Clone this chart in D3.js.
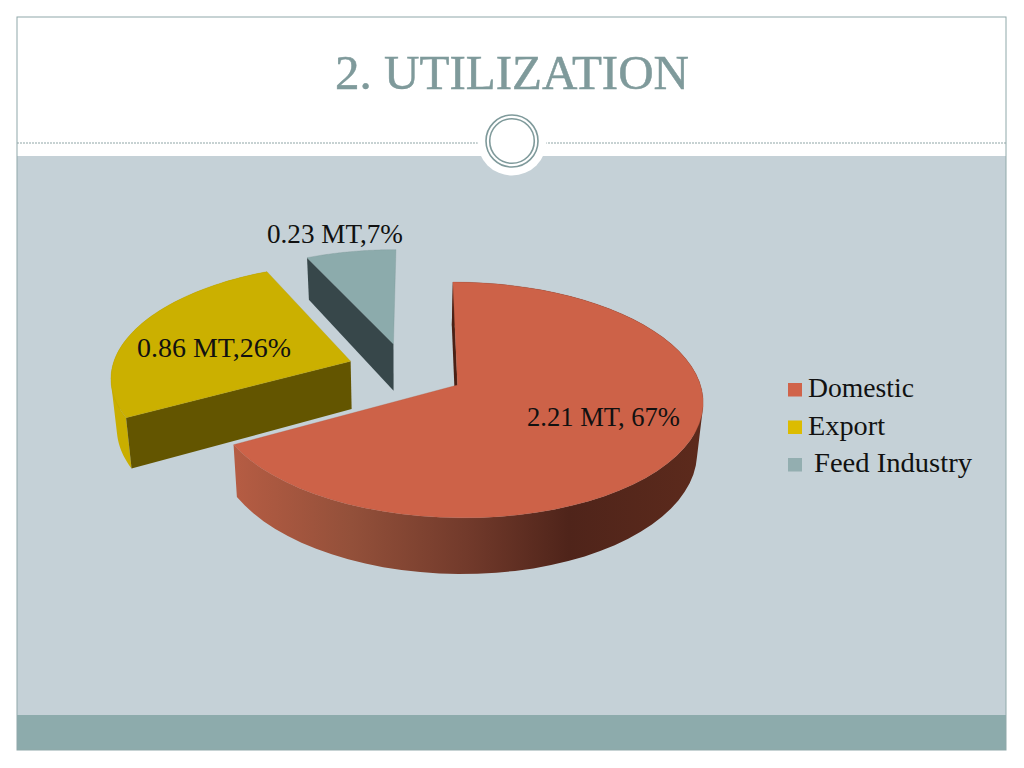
<!DOCTYPE html>
<html>
<head>
<meta charset="utf-8">
<title>2. UTILIZATION</title>
<script src="https://cdn.jsdelivr.net/npm/d3@7"></script>
<style>
  html, body { margin: 0; padding: 0; background: #fff; }
  svg { display: block; }
  text { font-family: "Liberation Serif", "DejaVu Serif", serif; }
</style>
</head>
<body>
<div id="chart"></div>
<script>
// chart data
const categories = ["Domestic", "Export", "Feed Industry"];
const valuesMT = [2.21, 0.86, 0.23];
const sliceLabels = ["2.21 MT, 67%", "0.86 MT,26%", "0.23 MT,7%"];
const titleText = "2. UTILIZATION";

// how far each slice is pulled out of the pie, in radius units (x, y on the pie's plane)
const explodeX = [0, -0.447, -0.268];
const explodeY = [0, -0.21, -0.37];

const topColors = ["#cd6248", "#cbb000", "#8cabac"];
const radialColors = ["#4a2015", "#635500", "#37474a"];

const width = 1024, height = 768;
const svg = d3.select("#chart").append("svg")
    .attr("width", width)
    .attr("height", height);

// slide background
svg.append("rect").attr("x", 17).attr("y", 156).attr("width", 989).attr("height", 559).attr("fill", "#c5d1d7");
svg.append("rect").attr("x", 17).attr("y", 715).attr("width", 989).attr("height", 35).attr("fill", "#8dabac");
svg.append("rect").attr("x", 17).attr("y", 17).attr("width", 989).attr("height", 733)
    .attr("fill", "none").attr("stroke", "#8fa8a9").attr("stroke-width", 1);

svg.append("line").attr("x1", 17).attr("x2", 1006).attr("y1", 143).attr("y2", 143)
    .attr("stroke", "#8fa5a6").attr("stroke-width", 1).attr("stroke-dasharray", "2 1");

// white bump and double ring on the divider
svg.append("circle").attr("cx", 512).attr("cy", 141).attr("r", 34.5).attr("fill", "#fff");
svg.append("circle").attr("cx", 512).attr("cy", 141).attr("r", 26).attr("fill", "none").attr("stroke", "#7f9a9b").attr("stroke-width", 1.6);
svg.append("circle").attr("cx", 512).attr("cy", 141).attr("r", 22.3).attr("fill", "none").attr("stroke", "#7f9a9b").attr("stroke-width", 1.6);

svg.append("text")
    .attr("x", 335).attr("y", 89)
    .attr("textLength", 354).attr("lengthAdjust", "spacingAndGlyphs")
    .attr("font-size", 48).attr("fill", "#7f9a9b")
    .attr("stroke", "#7f9a9b").attr("stroke-width", 0.5)
    .text(titleText);

// pie projection, a flat circle seen in perspective
const cx = 457.5, cy = 385;
const Rx = 243, Ry = 116, persp = 0.127, skew = 0.045;
const depth = 49;

function project(a, r, i) {
    const px = r * Math.sin(a) + explodeX[i];
    const py = -r * Math.cos(a) + explodeY[i];
    const s = 1 / (1 - persp * py);
    const yy = Ry * py * s;
    return { x: cx + Rx * px * s + yy * skew, y: cy + yy, s: s };
}
// same point on the bottom face
function down(p) {
    return { x: 400 + (p.x - 400) * 0.98, y: p.y + depth * p.s };
}

const line = d3.line().x(d => d.x).y(d => d.y);

const pie = d3.pie().sort(null).startAngle(0).endAngle(2 * Math.PI);
const slices = pie(valuesMT);

const defs = svg.append("defs");
const wallGrad = defs.append("linearGradient").attr("id", "wallDomestic")
    .attr("gradientUnits", "userSpaceOnUse")
    .attr("x1", 236).attr("x2", 698).attr("y1", 0).attr("y2", 0);
[[0, "#b55c43"], [0.25, "#93503a"], [0.5, "#723a2b"], [0.72, "#4f241a"], [1, "#5c2a1c"]].forEach(d => {
    wallGrad.append("stop").attr("offset", d[0]).attr("stop-color", d[1]);
});

const wallColors = ["url(#wallDomestic)", "#c9ae00", "#5d7273"];

// curved wall: one quad per rim step, all wound the same way so they fill as a union
function wallPath(rim) {
    return d3.pairs(rim).map(p => {
        let quad = [p[0], p[1], down(p[1]), down(p[0])];
        if (d3.polygonArea(quad.map(q => [q.x, q.y])) < 0) quad = quad.reverse();
        return line(quad) + "Z";
    }).join("");
}

// painter's order, back to front
const drawOrder = [2, 1, 0];
drawOrder.forEach(i => {
    const d = slices[i];
    const angles = d3.range(0, 61).map(k => d.startAngle + (d.endAngle - d.startAngle) * k / 60);
    const rim = angles.map(a => project(a, 1, i));
    const apex = project(0, 0, i);
    const g = svg.append("g").attr("class", "slice");

    // feed slice has its rim at the back, nothing to see
    if (i !== 2) {
        g.append("path")
            .attr("d", wallPath(rim))
            .attr("fill", wallColors[i]);
    }

    // straight wall along the slice's start edge
    const edge = project(d.startAngle, 1, i);
    g.append("path")
        .attr("d", line([edge, apex, down(apex), down(edge)]) + "Z")
        .attr("fill", radialColors[i]);

    // top face
    g.append("path")
        .attr("d", line(rim.concat([apex])) + "Z")
        .attr("fill", topColors[i])
        .attr("stroke", d3.color(topColors[i]).darker(0.4))
        .attr("stroke-opacity", 0.5)
        .attr("stroke-width", 0.6);
});

// data labels
const labelPos = [[527, 426, 153], [137, 357, 154], [267, 243, 136]];
sliceLabels.forEach((t, i) => {
    svg.append("text")
        .attr("x", labelPos[i][0]).attr("y", labelPos[i][1])
        .attr("textLength", labelPos[i][2]).attr("lengthAdjust", "spacingAndGlyphs")
        .attr("font-size", 27).attr("fill", "#111")
        .text(t);
});

// legend
const color = d3.scaleOrdinal().domain(categories).range(["#d0634a", "#dcbc00", "#93aeb0"]);
const legendY = d3.scalePoint().domain(categories).range([383, 458]);
const legendText = { "Domestic": [808, 106], "Export": [808, 77], "Feed Industry": [814, 158] };
const legend = svg.append("g").selectAll("g").data(categories).enter().append("g");
legend.append("rect")
    .attr("x", 788).attr("y", d => legendY(d))
    .attr("width", 14).attr("height", 13.5)
    .attr("fill", d => color(d));
legend.append("text")
    .attr("x", d => legendText[d][0]).attr("y", d => legendY(d) + 14)
    .attr("textLength", d => legendText[d][1]).attr("lengthAdjust", "spacingAndGlyphs")
    .attr("font-size", 27).attr("fill", "#111")
    .text(d => d);
</script>
</body>
</html>
